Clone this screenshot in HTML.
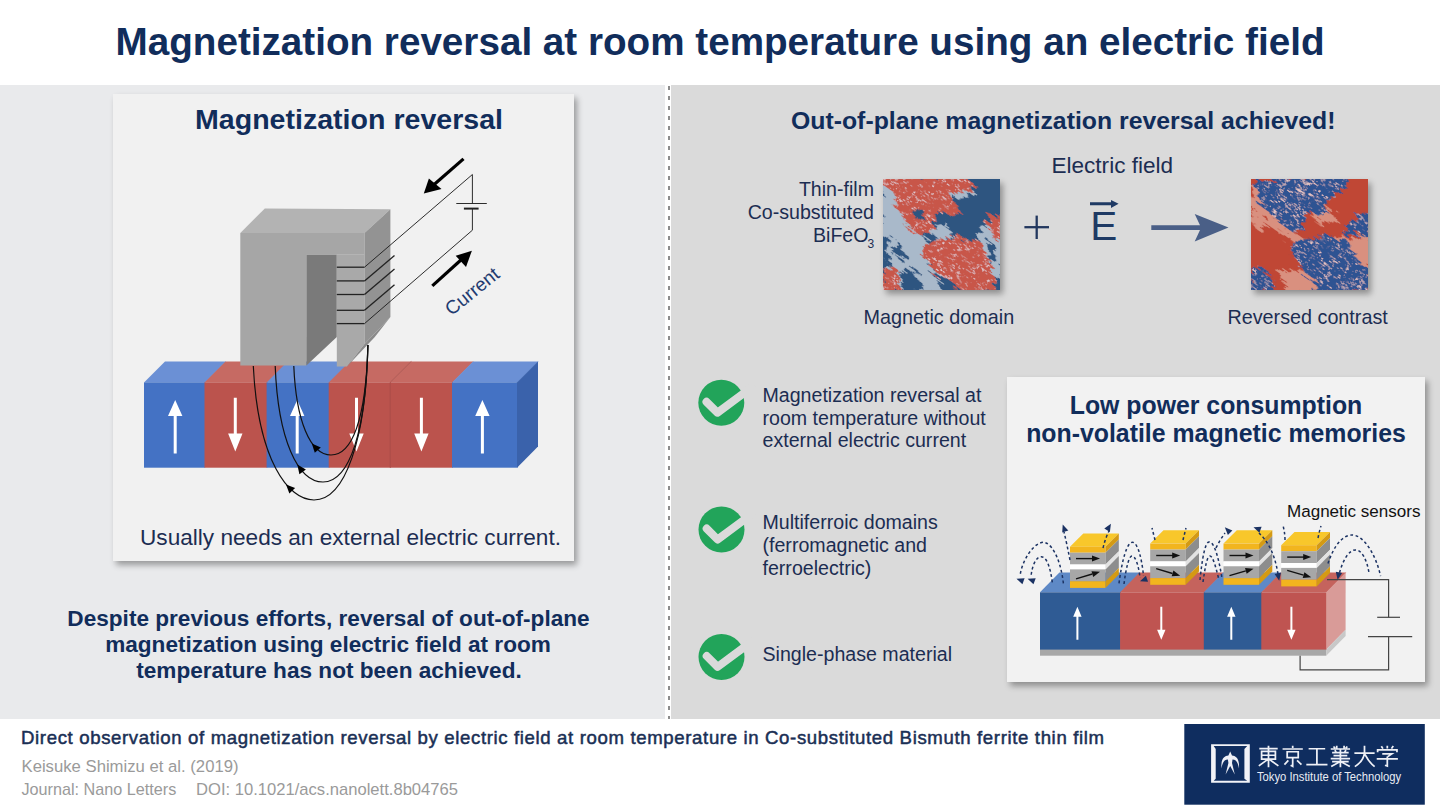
<!DOCTYPE html>
<html><head><meta charset="utf-8">
<style>
html,body{margin:0;padding:0;width:1440px;height:809px;overflow:hidden;background:#fff;}
svg{display:block;}
text{font-family:"Liberation Sans",sans-serif;}
</style></head>
<body>
<svg width="1440" height="809" viewBox="0 0 1440 809">
<defs>
  <filter id="sh1" x="-10%" y="-10%" width="130%" height="130%">
    <feGaussianBlur in="SourceAlpha" stdDeviation="3"/>
    <feOffset dx="3" dy="4"/>
    <feComponentTransfer><feFuncA type="linear" slope="0.35"/></feComponentTransfer>
    <feMerge><feMergeNode/><feMergeNode in="SourceGraphic"/></feMerge>
  </filter>
  <marker id="ah" viewBox="0 0 10 10" refX="9" refY="5" markerWidth="4" markerHeight="4" orient="auto">
    <path d="M0,0 L10,5 L0,10 z" fill="#000"/>
  </marker>
  <clipPath id="clip1"><rect x="7" y="6" width="831" height="791"/></clipPath>
  <clipPath id="clip2"><rect x="9" y="6" width="831" height="791"/></clipPath>
  <filter id="streak" filterUnits="userSpaceOnUse" x="-700" y="-700" width="1400" height="1400">
    <feTurbulence type="fractalNoise" baseFrequency="0.006 0.06" numOctaves="3" seed="7"/>
    <feDisplacementMap in="SourceGraphic" scale="70" xChannelSelector="R" yChannelSelector="G"/>
  </filter>
  <filter id="speck1" filterUnits="userSpaceOnUse" x="-700" y="-700" width="1600" height="1600">
    <feTurbulence type="fractalNoise" baseFrequency="0.02 0.1" numOctaves="2" seed="11" result="n"/>
    <feColorMatrix in="n" type="matrix" values="0 0 0 0 0.78  0 0 0 0 0.72  0 0 0 0 0.76  6 0 0 0 -3.6" result="spots"/>
    <feComposite in="spots" in2="SourceGraphic" operator="in" result="sp"/>
    <feMerge><feMergeNode in="SourceGraphic"/><feMergeNode in="sp"/></feMerge>
  </filter>
  <filter id="speck2" filterUnits="userSpaceOnUse" x="-700" y="-700" width="1600" height="1600">
    <feTurbulence type="fractalNoise" baseFrequency="0.02 0.1" numOctaves="2" seed="5" result="n"/>
    <feColorMatrix in="n" type="matrix" values="0 0 0 0 0.82  0 0 0 0 0.58  0 0 0 0 0.56  5 0 0 0 -2.9" result="spots"/>
    <feComposite in="spots" in2="SourceGraphic" operator="in" result="sp"/>
    <feMerge><feMergeNode in="SourceGraphic"/><feMergeNode in="sp"/></feMerge>
  </filter>
  <clipPath id="clipA"><rect x="0" y="0" width="117" height="111"/></clipPath>
  <clipPath id="clipB"><rect x="0" y="0" width="117" height="111"/></clipPath>
  <filter id="streakP" filterUnits="userSpaceOnUse" x="-150" y="-150" width="300" height="300">
    <feTurbulence type="fractalNoise" baseFrequency="0.05 0.3" numOctaves="3" seed="7"/>
    <feDisplacementMap in="SourceGraphic" scale="16" xChannelSelector="R" yChannelSelector="G"/>
  </filter>
  <filter id="speckP1" filterUnits="userSpaceOnUse" x="-150" y="-150" width="300" height="300">
    <feTurbulence type="fractalNoise" baseFrequency="0.14 0.7" numOctaves="2" seed="11" result="n"/>
    <feColorMatrix in="n" type="matrix" values="0 0 0 0 0.78  0 0 0 0 0.66  0 0 0 0 0.70  5 0 0 0 -3.0" result="spots"/>
    <feComposite in="spots" in2="SourceGraphic" operator="in" result="sp"/>
    <feMerge><feMergeNode in="SourceGraphic"/><feMergeNode in="sp"/></feMerge>
  </filter>
  <filter id="speckP2" filterUnits="userSpaceOnUse" x="-150" y="-150" width="300" height="300">
    <feTurbulence type="fractalNoise" baseFrequency="0.14 0.7" numOctaves="2" seed="5" result="n"/>
    <feColorMatrix in="n" type="matrix" values="0 0 0 0 0.82  0 0 0 0 0.58  0 0 0 0 0.56  5 0 0 0 -2.9" result="spots"/>
    <feComposite in="spots" in2="SourceGraphic" operator="in" result="sp"/>
    <feMerge><feMergeNode in="SourceGraphic"/><feMergeNode in="sp"/></feMerge>
  </filter>
</defs>

<!-- backgrounds -->
<rect x="0" y="0" width="1440" height="809" fill="#ffffff"/>
<rect x="0" y="85" width="665" height="634" fill="#e9eaec"/>
<rect x="671" y="85" width="769" height="634" fill="#dadada"/>
<line x1="669" y1="86" x2="669" y2="719" stroke="#8c8c8c" stroke-width="2" stroke-dasharray="4 6"/>

<!-- header title -->
<text x="115.5" y="55" font-size="38.6" font-weight="bold" fill="#112d5b" textLength="1209" lengthAdjust="spacingAndGlyphs">Magnetization reversal at room temperature using an electric field</text>

<!-- LEFT CARD -->
<rect x="113" y="94" width="461" height="467" fill="#f1f1f1" filter="url(#sh1)"/>
<text x="195" y="129" font-size="28.4" font-weight="bold" fill="#112d5b" textLength="308" lengthAdjust="spacingAndGlyphs">Magnetization reversal</text>

<!-- left diagram: domain block -->
<g id="block">
  <!-- top faces -->
  <polygon points="144,382.4 205.2,382.4 226.2,361.5 165,361.5" fill="#6b90d5"/>
  <polygon points="204.5,382.4 267.3,382.4 288.3,361.5 225.5,361.5" fill="#c66a63"/>
  <polygon points="266.6,382.4 329.4,382.4 350.4,361.5 287.6,361.5" fill="#6b90d5"/>
  <polygon points="328.7,382.4 390.9,382.4 411.9,361.5 349.7,361.5" fill="#c66a63"/>
  <polygon points="390.2,382.4 452.7,382.4 473.7,361.5 411.2,361.5" fill="#c66a63"/>
  <polygon points="452,382.4 517.7,382.4 538.7,361.5 473,361.5" fill="#6b90d5"/>
  <line x1="390.2" y1="382.4" x2="411.2" y2="361.5" stroke="#a85550" stroke-width="0.8"/>
  <!-- front faces -->
  <rect x="144" y="382.4" width="61.2" height="85.3" fill="#4472c4"/>
  <rect x="204.5" y="382.4" width="62.8" height="85.3" fill="#bb534d"/>
  <rect x="266.6" y="382.4" width="62.8" height="85.3" fill="#4472c4"/>
  <rect x="328.7" y="382.4" width="62.2" height="85.3" fill="#bb534d"/>
  <rect x="390.2" y="382.4" width="62.5" height="85.3" fill="#bb534d"/>
  <rect x="452" y="382.4" width="65.7" height="85.3" fill="#4472c4"/>
  <line x1="390.2" y1="382.4" x2="390.2" y2="467.7" stroke="#a64a45" stroke-width="0.8"/>
  <!-- right side -->
  <polygon points="517,382.4 538,361.5 538,446.5 517,467.7" fill="#3a62ab"/>
  <!-- white arrows -->
  <g fill="#ffffff">
    <path d="M173.7,453.4 V416 H168 L175.2,400 L182.4,416 H176.7 V453.4 Z"/>
    <path d="M235.3,397.8 V433.5 H241 L233.8,451.6 L226.6,433.5 H232.3 V397.8 Z" transform="translate(1.5,0)"/>
    <path d="M295.7,453.4 V416 H290 L297.2,400 L304.4,416 H298.7 V453.4 Z"/>
    <path d="M358,397.8 V433.5 H363.7 L356.5,451.6 L349.3,433.5 H355 V397.8 Z"/>
    <path d="M422.9,397.8 V433.5 H428.6 L421.4,451.6 L414.2,433.5 H419.9 V397.8 Z"/>
    <path d="M480.9,453.4 V416 H475.2 L482.4,400 L489.6,416 H483.9 V453.4 Z"/>
  </g>
</g>
<!-- magnet -->
<g id="magnet">
  <polygon points="240.3,232.9 264.8,208.4 390.4,209.3 364.5,232.9" fill="#b3b3b3"/>
  <polygon points="240.3,232.9 364.5,232.9 364.5,254.7 306.4,254.7 306.4,365.5 240.3,365.5" fill="#a6a6a6"/>
  <polygon points="306.4,254.7 336.8,254.7 336.8,337 306.4,365.5" fill="#7a7a7a"/>
  <polygon points="336.8,254.7 364.5,254.7 364.5,343.9 347,366.4 336.8,366.4" fill="#a9a9a9"/>
  <polygon points="364.5,232.9 390.4,209.3 390.4,317 364.5,343.9" fill="#939393"/>
  <polygon points="364.5,343.9 390.4,317 374.8,337 347,366.4" fill="#8a8a8a"/>
  <g stroke="#222" stroke-width="1.3" fill="none">
    <line x1="336.8" y1="267.2" x2="364.5" y2="267.2"/>
    <line x1="336.8" y1="280.9" x2="364.5" y2="280.9"/>
    <line x1="336.8" y1="294.5" x2="364.5" y2="294.5"/>
    <line x1="336.8" y1="310.3" x2="364.5" y2="310.3"/>
    <line x1="336.8" y1="323.6" x2="364.5" y2="323.6"/>
    <line x1="364.5" y1="280.9" x2="394.5" y2="255.5"/>
    <line x1="364.5" y1="294.5" x2="394.5" y2="269"/>
    <line x1="364.5" y1="310.3" x2="394.5" y2="284.8"/>
  </g>
  <g stroke="#222" stroke-width="0.95" fill="none">
    <polyline points="364.5,267.2 472.4,174.5 472.4,203.5"/>
    <polyline points="364.5,323.6 472.4,230.2 472.4,208.6"/>
    <line x1="456.3" y1="203.5" x2="486.8" y2="203.5"/>
    <line x1="463.9" y1="208.6" x2="478.6" y2="208.6" stroke-width="2"/>
  </g>
  <!-- thick arrows -->
  <g fill="#000">
    <line x1="463.5" y1="158.9" x2="433" y2="185.5" stroke="#000" stroke-width="3.2"/>
    <polygon points="423.8,193.5 428.9,178.5 441.5,189"/>
    <line x1="432.3" y1="285.9" x2="462" y2="259" stroke="#000" stroke-width="3.2"/>
    <polygon points="471.9,250.7 455.7,255.8 466,267"/>
  </g>
  <text transform="translate(471.8,290.9) rotate(-39)" x="0" y="7" font-size="19" fill="#1f3b70" text-anchor="middle">Current</text>
</g>
<!-- field lines -->
<g stroke="#111" stroke-width="1.2" fill="none">
  <path d="M293.8,366 C296,420 310,455 331,455 C352,455 366,420 367.9,345"/>
  <path d="M275.2,366 C278,440 298,482 323,482 C350,482 366,430 367.9,345"/>
  <path d="M253.3,366 C258,460 288,500 314,500 C345,500 366,440 367.9,345"/>
</g>
<g fill="#000">
  <polygon points="311.8,443.5 320.8,447.5 314.8,452.8"/>
  <polygon points="297.3,464.6 305.9,469.4 299.4,474.2"/>
  <polygon points="286.0,484.4 295.1,488.1 289.4,493.6"/>
</g>

<text x="140" y="544.8" font-size="22.5" fill="#1c2d52" textLength="421" lengthAdjust="spacingAndGlyphs">Usually needs an external electric current.</text>

<!-- bottom-left paragraph -->
<g font-size="22.6" font-weight="bold" fill="#112d5b" text-anchor="middle">
<text x="328.5" y="625.7">Despite previous efforts, reversal of out-of-plane</text>
<text x="328" y="652">magnetization using electric field at room</text>
<text x="329" y="678.2">temperature has not been achieved.</text>
</g>

<!-- RIGHT TOP -->
<text x="791" y="128.8" font-size="24.6" font-weight="bold" fill="#112d5b" textLength="544.5" lengthAdjust="spacingAndGlyphs">Out-of-plane magnetization reversal achieved!</text>
<text x="1051.5" y="172.8" font-size="22.55" fill="#1c2d52">Electric field</text>
<g font-size="19.6" fill="#1c2d52" text-anchor="end">
<text x="874" y="195.6">Thin-film</text>
<text x="874" y="218.9">Co-substituted</text>
<text x="868.5" y="241.6">BiFeO</text>
</g>
<text x="867.5" y="248.2" font-size="12" fill="#1c2d52">3</text>
<text x="863.5" y="323.7" font-size="19.8" fill="#1c2d52">Magnetic domain</text>
<text x="1227.5" y="323.7" font-size="19.75" fill="#1c2d52">Reversed contrast</text>

<!-- domain images -->
<!-- DOMAIN IMAGES -->
<g id="dom1">
<rect x="883" y="179" width="117" height="111" fill="#2d5480" filter="url(#sh1)"/>
<g transform="translate(883,179)" clip-path="url(#clipA)">
 <g transform="translate(58,55) rotate(35)" filter="url(#streakP)">
  <g transform="rotate(-35) translate(-58,-55)">
   <rect x="-40" y="-40" width="200" height="200" fill="#2d5480"/>
   <path fill="#a9b9ca" d="M-3,6 L14,8 L16,30 L24,44 L38,56 L44,62 L40,80 L48,92 L58,104 L62,114 L20,114 L14,100 L6,92 L-3,90 Z M60,4 L86,6 L92,14 L80,18 L66,18 Z M96,50 L120,46 L120,100 L104,96 L96,70 Z M44,50 L62,44 L70,56 L56,62 Z"/>
   <path fill="#2d5480" d="M-3,55 L5,58 L8,90 L-3,92 Z M18,92 L28,90 L36,100 L38,114 L20,114 Z M10,62 L16,66 L24,80 L20,82 L12,72 Z M104,60 L110,62 L114,80 L108,84 Z"/>
  </g>
  <g filter="url(#speckP1)"><g transform="rotate(-35) translate(-58,-55)">
   <path fill="#c85748" d="M-3,-3 L80,-3 L93,8 L86,13 L73,12 L68,19 L77,33 L71,38 L60,31 L53,36 L50,52 L40,56 L30,54 L22,42 L14,30 L12,15 L-3,8 Z M40,66 L58,60 L73,58 L90,60 L100,66 L106,80 L110,98 L111,114 L80,114 L64,102 L50,92 L40,80 Z M104,33 L120,38 L120,58 L111,58 L103,42 Z M-3,88 L16,90 L17,114 L-3,114 Z"/>
  </g></g>
  <g transform="rotate(-35) translate(-58,-55)">
   <path fill="#2d5480" d="M32,32 L40,31 L41,40 L33,41 Z"/>
  </g>
 </g>
</g>
</g>
<g id="dom2">
<rect x="1251" y="179" width="117" height="111" fill="#c04634" filter="url(#sh1)"/>
<g transform="translate(1251,179)" clip-path="url(#clipB)">
 <g transform="translate(58,55) rotate(35)" filter="url(#streakP)">
  <g transform="rotate(-35) translate(-58,-55)">
   <rect x="-40" y="-40" width="200" height="200" fill="#c04634"/>
   <path fill="#d9907f" d="M0,8 L6,6 L12,25 L24,38 L35,50 L46,57 L58,62 L80,60 L90,58 L62,70 L42,64 L24,50 L10,38 L-3,26 Z M66,26 L84,34 L88,44 L70,46 L60,38 Z M83,55 L101,60 L120,52 L120,94 L103,92 L95,70 Z M28,92 L58,90 L75,104 L82,114 L34,114 Z M-3,28 L8,36 L14,50 L6,52 L-3,44 Z"/>
  </g>
  <g filter="url(#speckP2)"><g transform="rotate(-35) translate(-58,-55)">
   <path fill="#2d5392" d="M4,3 L36,-3 L97,-3 L97,8 L84,15 L76,22 L73,30 L76,35 L66,36 L59,30 L55,38 L52,50 L42,54 L30,45 L20,35 L10,25 L4,10 Z M40,63 L59,60 L73,57 L93,60 L103,72 L110,85 L120,93 L120,114 L68,114 L60,100 L52,92 L45,80 L40,70 Z M103,35 L120,33 L120,56 L96,56 L93,48 L103,44 Z M-3,90 L10,88 L20,93 L22,105 L25,114 L-3,114 Z"/>
  </g></g>
  <g transform="rotate(-35) translate(-58,-55)">
  </g>
 </g>
</g>
</g>

<!-- plus, E, arrow -->
<g stroke="#22375e" stroke-width="2.3">
<line x1="1024.4" y1="227.2" x2="1049" y2="227.2"/>
<line x1="1036.7" y1="215.6" x2="1036.7" y2="239"/>
</g>
<text x="1090.3" y="239.8" font-size="40.5" fill="#1f3a64">E</text>
<path d="M1090,202.3 H1111 V199.9 L1118.6,203.75 L1111,207.9 V205.2 H1090 Z" fill="#1f3a64"/>
<path d="M1151.3,225.2 H1200 L1194.7,214 L1228.5,227.6 L1194.7,241.6 L1200,230.1 H1151.3 Z" fill="#4a5f87"/>

<!-- check items -->
<g id="checks">
  <defs><g id="chk"><circle cx="0" cy="0" r="23" fill="#22a45a"/><polyline points="-14.8,-1 -3.9,9.9 30,-15.2" fill="none" stroke="#dadada" stroke-width="8" stroke-linecap="round" stroke-linejoin="round"/></g></defs>
  <use href="#chk" x="721.3" y="402.8"/>
  <use href="#chk" x="721.5" y="529.6"/>
  <use href="#chk" x="721.5" y="657"/>
</g>
<g font-size="19.6" fill="#1c2d52">
<text x="762.5" y="401.5">Magnetization reversal at</text>
<text x="762.5" y="424.5">room temperature without</text>
<text x="762.5" y="447.1">external electric current</text>
<text x="762.5" y="528.9">Multiferroic domains</text>
<text x="762.5" y="552.3">(ferromagnetic and</text>
<text x="762.5" y="575.2">ferroelectric)</text>
<text x="762.5" y="660.7">Single-phase material</text>
</g>

<!-- RIGHT CARD -->
<rect x="1007" y="377" width="418" height="305" fill="#f2f2f2" filter="url(#sh1)"/>
<g font-size="24.85" font-weight="bold" fill="#112d5b" text-anchor="middle">
<text x="1216" y="413.5">Low power consumption</text>
<text x="1216" y="442">non-volatile magnetic memories</text>
</g>
<g id="memory">
<polygon points="1040,592.3 1120.8,592.3 1140.2,572.5 1059.4,572.5" fill="#5e89c6"/>
<polygon points="1120.1,592.3 1204.5,592.3 1223.9,572.5 1139.5,572.5" fill="#c5635d"/>
<polygon points="1203.8,592.3 1262.0,592.3 1281.4,572.5 1223.2,572.5" fill="#5e89c6"/>
<polygon points="1261.3,592.3 1326.9,592.3 1346.3000000000002,572.5 1280.7,572.5" fill="#c5635d"/>
<rect x="1040" y="592.3" width="80.8" height="57.8" fill="#2f5b94"/>
<rect x="1120.1" y="592.3" width="84.4" height="57.8" fill="#bf5451"/>
<rect x="1203.8" y="592.3" width="58.2" height="57.8" fill="#2f5b94"/>
<rect x="1261.3" y="592.3" width="65.6" height="57.8" fill="#bf5451"/>
<polygon points="1326.2,592.3 1345.6000000000001,572.5 1345.6000000000001,629.8000000000001 1326.2,649.6" fill="#d99b98"/>
<rect x="1040" y="649.6" width="286.2" height="6.1" fill="#a8a8a8"/>
<polygon points="1326.2,649.6 1345.6000000000001,629.8000000000001 1345.6000000000001,635.9000000000001 1326.2,655.7" fill="#c8c8c8"/>
<path d="M1076.4,639.7 V616.8 H1073.2 L1077.4,606.8 L1081.6000000000001,616.8 H1078.4 V639.7 Z" fill="#fff"/>
<path d="M1160.3,606.8 V629.7 H1157.1 L1161.3,639.7 L1165.5,629.7 H1162.3 V606.8 Z" fill="#fff"/>
<path d="M1230.3,639.7 V616.8 H1227.1 L1231.3,606.8 L1235.5,616.8 H1232.3 V639.7 Z" fill="#fff"/>
<path d="M1290.4,606.8 V629.7 H1287.2 L1291.4,639.7 L1295.6000000000001,629.7 H1292.4 V606.8 Z" fill="#fff"/>
<polygon points="1070,546.7 1105.5,546.7 1118.8,533.4000000000001 1083.3,533.4000000000001" fill="#f8c72b"/>
<rect x="1070" y="546.7" width="35.5" height="6.0" fill="#f2b51e"/>
<polygon points="1105.5,546.7 1118.8,533.4 1118.8,539.4 1105.5,552.7" fill="#d49a14"/>
<rect x="1070" y="552.7" width="35.5" height="11.8" fill="#a7a7a7"/>
<polygon points="1105.5,552.7 1118.8,539.4 1118.8,551.2 1105.5,564.5" fill="#8d8d8d"/>
<rect x="1070" y="564.5" width="35.5" height="4.9" fill="#ffffff"/>
<polygon points="1105.5,564.5 1118.8,551.2 1118.8,556.1 1105.5,569.4" fill="#e2e2e2"/>
<rect x="1070" y="569.4" width="35.5" height="11.8" fill="#a7a7a7"/>
<polygon points="1105.5,569.4 1118.8,556.1 1118.8,567.9 1105.5,581.2" fill="#8d8d8d"/>
<rect x="1070" y="581.2" width="35.5" height="6.7" fill="#f2b51e"/>
<polygon points="1105.5,581.2 1118.8,567.9 1118.8,574.6 1105.5,587.9" fill="#d49a14"/>
<line x1="1076" y1="558.6" x2="1095" y2="558.6" stroke="#111" stroke-width="1.4"/>
<polygon points="1100,558.6 1092,555.6 1092,561.6" fill="#111"/>
<line x1="1076" y1="578.8" x2="1092.3" y2="574.0" stroke="#111" stroke-width="1.4"/>
<polygon points="1100.0,571.8 1093.2,576.9 1091.5,571.2" fill="#111"/>
<polygon points="1150.2,543.6 1185.7,543.6 1199.0,530.3000000000001 1163.5,530.3000000000001" fill="#f8c72b"/>
<rect x="1150.2" y="543.6" width="35.5" height="6.0" fill="#f2b51e"/>
<polygon points="1185.7,543.6 1199.0,530.3 1199.0,536.3 1185.7,549.6" fill="#d49a14"/>
<rect x="1150.2" y="549.6" width="35.5" height="11.8" fill="#a7a7a7"/>
<polygon points="1185.7,549.6 1199.0,536.3 1199.0,548.1 1185.7,561.4" fill="#8d8d8d"/>
<rect x="1150.2" y="561.4" width="35.5" height="4.9" fill="#ffffff"/>
<polygon points="1185.7,561.4 1199.0,548.1 1199.0,553.0 1185.7,566.3" fill="#e2e2e2"/>
<rect x="1150.2" y="566.3" width="35.5" height="11.8" fill="#a7a7a7"/>
<polygon points="1185.7,566.3 1199.0,553.0 1199.0,564.8 1185.7,578.1" fill="#8d8d8d"/>
<rect x="1150.2" y="578.1" width="35.5" height="6.7" fill="#f2b51e"/>
<polygon points="1185.7,578.1 1199.0,564.8 1199.0,571.5 1185.7,584.8" fill="#d49a14"/>
<line x1="1156.2" y1="555.5" x2="1175.2" y2="555.5" stroke="#111" stroke-width="1.4"/>
<polygon points="1180.2,555.5 1172.2,552.5 1172.2,558.5" fill="#111"/>
<line x1="1156.2" y1="568.7" x2="1172.5" y2="573.5" stroke="#111" stroke-width="1.4"/>
<polygon points="1180.2,575.7 1171.7,576.3 1173.4,570.6" fill="#111"/>
<polygon points="1223.5,543.6 1259.0,543.6 1272.3,530.3000000000001 1236.8,530.3000000000001" fill="#f8c72b"/>
<rect x="1223.5" y="543.6" width="35.5" height="6.0" fill="#f2b51e"/>
<polygon points="1259.0,543.6 1272.3,530.3 1272.3,536.3 1259.0,549.6" fill="#d49a14"/>
<rect x="1223.5" y="549.6" width="35.5" height="11.8" fill="#a7a7a7"/>
<polygon points="1259.0,549.6 1272.3,536.3 1272.3,548.1 1259.0,561.4" fill="#8d8d8d"/>
<rect x="1223.5" y="561.4" width="35.5" height="4.9" fill="#ffffff"/>
<polygon points="1259.0,561.4 1272.3,548.1 1272.3,553.0 1259.0,566.3" fill="#e2e2e2"/>
<rect x="1223.5" y="566.3" width="35.5" height="11.8" fill="#a7a7a7"/>
<polygon points="1259.0,566.3 1272.3,553.0 1272.3,564.8 1259.0,578.1" fill="#8d8d8d"/>
<rect x="1223.5" y="578.1" width="35.5" height="6.7" fill="#f2b51e"/>
<polygon points="1259.0,578.1 1272.3,564.8 1272.3,571.5 1259.0,584.8" fill="#d49a14"/>
<line x1="1229.5" y1="555.5" x2="1248.5" y2="555.5" stroke="#111" stroke-width="1.4"/>
<polygon points="1253.5,555.5 1245.5,552.5 1245.5,558.5" fill="#111"/>
<line x1="1229.5" y1="575.7" x2="1245.8" y2="570.9" stroke="#111" stroke-width="1.4"/>
<polygon points="1253.5,568.7 1246.7,573.8 1245.0,568.1" fill="#111"/>
<polygon points="1281.2,545.2 1316.7,545.2 1330.0,531.9000000000001 1294.5,531.9000000000001" fill="#f8c72b"/>
<rect x="1281.2" y="545.2" width="35.5" height="6.0" fill="#f2b51e"/>
<polygon points="1316.7,545.2 1330.0,531.9 1330.0,537.9 1316.7,551.2" fill="#d49a14"/>
<rect x="1281.2" y="551.2" width="35.5" height="11.8" fill="#a7a7a7"/>
<polygon points="1316.7,551.2 1330.0,537.9 1330.0,549.7 1316.7,563.0" fill="#8d8d8d"/>
<rect x="1281.2" y="563.0" width="35.5" height="4.9" fill="#ffffff"/>
<polygon points="1316.7,563.0 1330.0,549.7 1330.0,554.6 1316.7,567.9" fill="#e2e2e2"/>
<rect x="1281.2" y="567.9" width="35.5" height="11.8" fill="#a7a7a7"/>
<polygon points="1316.7,567.9 1330.0,554.6 1330.0,566.4 1316.7,579.7" fill="#8d8d8d"/>
<rect x="1281.2" y="579.7" width="35.5" height="6.7" fill="#f2b51e"/>
<polygon points="1316.7,579.7 1330.0,566.4 1330.0,573.1 1316.7,586.4" fill="#d49a14"/>
<line x1="1287.2" y1="557.1" x2="1306.2" y2="557.1" stroke="#111" stroke-width="1.4"/>
<polygon points="1311.2,557.1 1303.2,554.1 1303.2,560.1" fill="#111"/>
<line x1="1287.2" y1="570.3" x2="1303.5" y2="575.1" stroke="#111" stroke-width="1.4"/>
<polygon points="1311.2,577.3 1302.7,577.9 1304.4,572.2" fill="#111"/>
<polyline points="1327,579.6 1388.6,579.6 1388.6,617.3" fill="none" stroke="#444" stroke-width="1.2"/>
<line x1="1377.2" y1="617.3" x2="1400" y2="617.3" stroke="#444" stroke-width="1.2"/>
<line x1="1368" y1="636.7" x2="1412.2" y2="636.7" stroke="#444" stroke-width="1.2"/>
<polyline points="1388.6,636.7 1388.6,669.9 1300.1,669.9 1300.1,655.7" fill="none" stroke="#444" stroke-width="1.2"/>
<path d="M1063.4,583.4 C1060,555 1050,542.3 1043.4,542.3 C1034,542.3 1022,560 1020,576" fill="none" stroke="#1b3263" stroke-width="1.5" stroke-dasharray="2.8 2.6"/>
<path d="M1052.3,582.3 C1050,565 1046,556.7 1041.1,556.7 C1036,556.7 1032,566 1031.1,576" fill="none" stroke="#1b3263" stroke-width="1.5" stroke-dasharray="2.8 2.6"/>
<path d="M1119,583.4 C1122,560 1127,542.3 1132.4,542.3 C1138,542.3 1142,560 1143.5,576" fill="none" stroke="#1b3263" stroke-width="1.5" stroke-dasharray="2.8 2.6"/>
<path d="M1124,584 C1126,568 1129,556 1132,556 C1136,556 1139,568 1140,578" fill="none" stroke="#1b3263" stroke-width="1.5" stroke-dasharray="2.8 2.6"/>
<path d="M1070,560 C1068,550 1066,540 1064,532" fill="none" stroke="#1b3263" stroke-width="1.5" stroke-dasharray="2.8 2.6"/>
<path d="M1103,548 C1105,540 1107,535 1109,531" fill="none" stroke="#1b3263" stroke-width="1.5" stroke-dasharray="2.8 2.6"/>
<path d="M1200,580 C1202,560 1205,541.9 1209.1,541.9 C1214,541.9 1218,555 1222,578" fill="none" stroke="#1b3263" stroke-width="1.5" stroke-dasharray="2.8 2.6"/>
<path d="M1203,582 C1205,568 1207,556 1210,556 C1213,556 1216,568 1219,580" fill="none" stroke="#1b3263" stroke-width="1.5" stroke-dasharray="2.8 2.6"/>
<path d="M1155,540 C1154,536 1153,532 1152,528" fill="none" stroke="#1b3263" stroke-width="1.5" stroke-dasharray="2.8 2.6"/>
<path d="M1183,540 C1184,536 1185,532 1186,528" fill="none" stroke="#1b3263" stroke-width="1.5" stroke-dasharray="2.8 2.6"/>
<path d="M1259,533 C1266,540 1274,550 1278,574" fill="none" stroke="#1b3263" stroke-width="1.5" stroke-dasharray="2.8 2.6"/>
<path d="M1216,548 C1219,542 1222,537 1225,533" fill="none" stroke="#1b3263" stroke-width="1.5" stroke-dasharray="2.8 2.6"/>
<path d="M1285,540 C1285,534 1284,530 1283,525" fill="none" stroke="#1b3263" stroke-width="1.5" stroke-dasharray="2.8 2.6"/>
<path d="M1318,538 C1319,533 1320,529 1321,526" fill="none" stroke="#1b3263" stroke-width="1.5" stroke-dasharray="2.8 2.6"/>
<path d="M1328,563.6 C1334,545 1343,535 1352,535 C1364,535 1376,555 1380.6,576.2" fill="none" stroke="#1b3263" stroke-width="1.5" stroke-dasharray="2.8 2.6"/>
<path d="M1339.5,572.7 C1343,560 1349,549.9 1355.5,549.9 C1362,549.9 1367,560 1369.2,573.9" fill="none" stroke="#1b3263" stroke-width="1.5" stroke-dasharray="2.8 2.6"/>
<polygon points="1016.5,578.7 1024.6,578.2 1022.4,584.3" fill="#1b3263"/>
<polygon points="1027.6,578.7 1035.7,578.2 1033.5,584.3" fill="#1b3263"/>
<polygon points="1140.0,581.3 1145.9,575.7 1148.1,581.8" fill="#1b3263"/>
<polygon points="1062.7,524.5 1068.3,530.4 1062.2,532.6" fill="#1b3263"/>
<polygon points="1110.9,523.8 1109.9,531.9 1104.3,528.6" fill="#1b3263"/>
<polygon points="1224.8,527.3 1232.4,530.4 1227.9,534.9" fill="#1b3263"/>
<polygon points="1253.5,527.2 1261.6,526.7 1259.4,532.8" fill="#1b3263"/>
<polygon points="1279.2,580.7 1274.6,573.9 1281.0,572.7" fill="#1b3263"/>
<polygon points="1337.6,579.7 1335.8,571.7 1342.2,572.9" fill="#1b3263"/>
</g>
<!-- endmemory -->
<text x="1287" y="516.7" font-size="17.05" fill="#111">Magnetic sensors</text>

<!-- FOOTER -->
<text x="21" y="744.4" font-size="18.6" fill="#1a2f55" stroke="#1a2f55" stroke-width="0.5" textLength="1083" lengthAdjust="spacing">Direct observation of magnetization reversal by electric field at room temperature in Co-substituted Bismuth ferrite thin film</text>
<g font-size="16.4" fill="#9a9a9a">
<text x="21.5" y="771.5" font-size="16.7">Keisuke Shimizu et al. (2019)</text>
<text x="21.5" y="794.5" font-size="16.2">Journal: Nano Letters</text>
<text x="196" y="794.5" font-size="16.6">DOI: 10.1021/acs.nanolett.8b04765</text>
</g>
<g id="logo">
<rect x="1184.3" y="724" width="240.5" height="80.7" fill="#0f2d5f"/>
<path fill="#f2f3f8" fill-rule="evenodd" d="M1211.1,744.3 H1249.8 V782.7 H1211.1 Z M1213.7,746 H1247.2 L1244.4,749.1 V778.7 L1247.2,780.7 H1213.7 L1215.7,778.7 V749.1 Z"/>
<path fill="#eef0f7" d="M1230.2,751.5 L1232,755.5 C1236,756 1239.5,758 1239,768.5 C1237.8,762 1236,759.5 1232.5,759.5 L1232,763 L1234.8,774.5 L1230.2,766 L1225.6,774.5 L1228.4,763 L1227.9,759.5 C1224.4,759.5 1222.6,762 1221.4,768.5 C1220.9,758 1224.4,756 1228.4,755.5 Z"/>
<path transform="translate(1257,745.8) scale(0.23,0.214)" d="M10,13 H90 M50,0 V100 M20,26 H80 V62 H20 Z M20,44 H80 M47,63 L8,94 M53,63 L93,94" fill="none" stroke="#eef0f6" stroke-width="7.6" stroke-linecap="butt" stroke-linejoin="miter"/>
<path transform="translate(1281.2,745.8) scale(0.23,0.214)" d="M50,0 V10 M6,15 H94 M26,28 H74 V55 H26 Z M50,55 V96 L41,91 M31,68 L14,88 M69,68 L88,88" fill="none" stroke="#eef0f6" stroke-width="7.6" stroke-linecap="butt" stroke-linejoin="miter"/>
<path transform="translate(1305.4,745.8) scale(0.23,0.214)" d="M14,14 H86 M50,14 V88 M4,88 H96" fill="none" stroke="#eef0f6" stroke-width="7.6" stroke-linecap="butt" stroke-linejoin="miter"/>
<path transform="translate(1328.9,745.8) scale(0.23,0.214)" d="M34,0 V13 M66,0 V13 M20,3 L27,12 M80,3 L73,12 M8,15 H92 M26,20 L31,29 M74,20 L69,29 M14,32 H86 M20,46 H80 M8,60 H92 M50,15 V100 M14,74 H86 M47,75 L10,97 M53,75 L91,97" fill="none" stroke="#eef0f6" stroke-width="7.6" stroke-linecap="butt" stroke-linejoin="miter"/>
<path transform="translate(1353,745.8) scale(0.23,0.214)" d="M6,34 H94 M50,0 V34 Q45,72 8,97 M52,40 Q70,78 94,97" fill="none" stroke="#eef0f6" stroke-width="7.6" stroke-linecap="butt" stroke-linejoin="miter"/>
<path transform="translate(1375.8,745.8) scale(0.23,0.214)" d="M24,2 L31,13 M50,0 V13 M76,1 L68,13 M8,30 V19 H92 V30 M28,38 H70 L52,51 M4,61 H96 M50,50 V95 L40,91" fill="none" stroke="#eef0f6" stroke-width="7.6" stroke-linecap="butt" stroke-linejoin="miter"/>
<text x="1257" y="780.7" font-size="12.2" fill="#e8ecf4" textLength="144" lengthAdjust="spacingAndGlyphs">Tokyo Institute of Technology</text>
</g>


</svg>
</body></html>
